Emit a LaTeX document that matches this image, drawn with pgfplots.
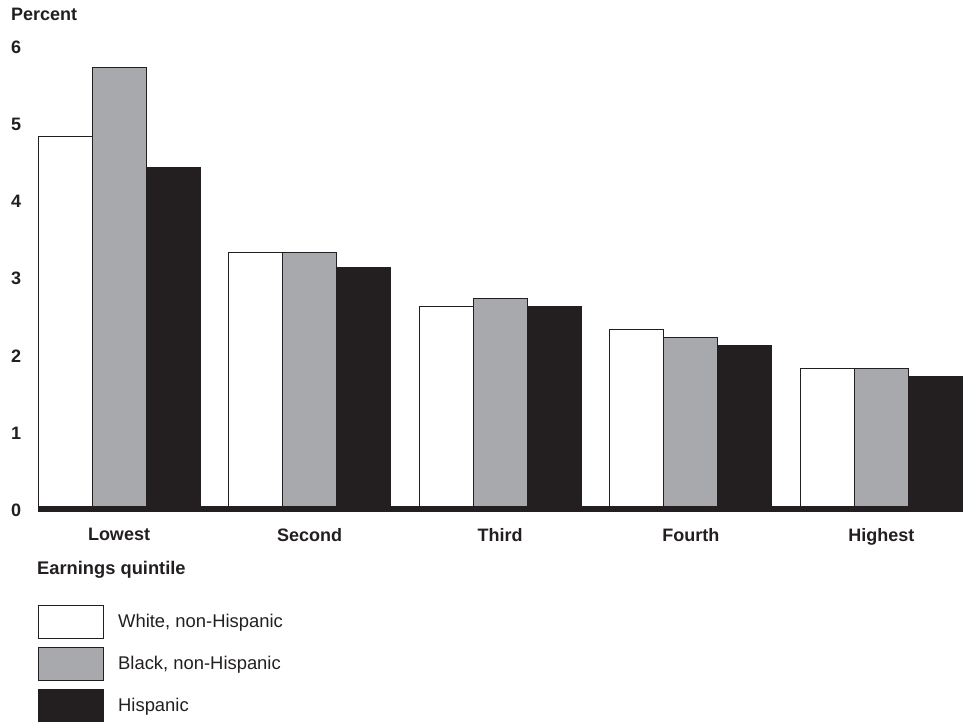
\documentclass[border=0pt]{standalone}
\usepackage{pgfplots}
\pgfplotsset{compat=1.18}
\usepackage{fontspec}
\setmainfont{Liberation Sans}
\definecolor{ink}{HTML}{231F20}
\definecolor{midgray}{HTML}{A7A9AC}
\begin{document}
\fontsize{18}{22}\selectfont
\begin{tikzpicture}[x=1pt,y=1pt]
\path[use as bounding box] (0,0) rectangle (972,722);
\begin{axis}[
  at={(38pt,214.7pt)}, anchor=south west,
  scale only axis, width=925pt, height=463.2pt,
  xmin=-0.425, xmax=4.428, ymin=0, ymax=6,
  axis line style={draw=none},
  major tick length=0pt,
  tick style={draw=none},
  /pgf/number format/assume math mode=true,
  ytick={0,1,2,3,4,5,6},
  xtick={0,1,2,3,4},
  xticklabels={Lowest,Second,Third,Fourth,Highest},
  yticklabel style={anchor=west, inner sep=0pt, xshift=-27pt, yshift=-3pt, font=\bfseries, text=ink},
  xticklabel style={anchor=north, inner sep=0pt, yshift=-20.7pt, font=\bfseries, text=ink},
  xlabel={Earnings quintile},
  xlabel style={at={(axis description cs:0,0)}, anchor=north west, inner sep=0pt, yshift=-53.7pt, xshift=-1pt, font=\fontsize{18.3}{22}\selectfont\bfseries, text=ink},
  ylabel={Percent},
  ylabel style={rotate=-90, at={(axis description cs:0,1)}, anchor=base west, inner sep=0pt, yshift=23.1pt, xshift=-27pt, font=\bfseries, text=ink},
  legend style={at={(axis description cs:0,0)}, anchor=north west, yshift=-97.7pt,
    draw=none, fill=none, inner sep=0pt, row sep=8pt, font=\fontsize{18.4}{22}\selectfont, text=ink,
    /tikz/every odd column/.append style={column sep=12pt}},
  legend cell align=left,
  legend image code/.code={\draw[#1] (0pt,-16.5pt) rectangle (65pt,16.5pt);},
  clip=false,
]
\addplot[ybar, bar width=0.2833, bar shift=-0.2833, fill=white, draw=ink, line width=1pt]
  coordinates {(0,4.8) (1,3.3) (2,2.6) (3,2.3) (4,1.8)};
\addlegendentry{White, non-Hispanic}
\addplot[ybar, bar width=0.2833, bar shift=0, fill=midgray, draw=ink, line width=1pt]
  coordinates {(0,5.7) (1,3.3) (2,2.7) (3,2.2) (4,1.8)};
\addlegendentry{Black, non-Hispanic}
\addplot[ybar, bar width=0.2833, bar shift=0.2833, fill=ink, draw=ink, line width=1pt]
  coordinates {(0,4.4) (1,3.1) (2,2.6) (3,2.1) (4,1.7)};
\addlegendentry{Hispanic}
\draw[ink, line width=6pt] ([yshift=-2.2pt]axis cs:-0.425,0) -- ([yshift=-2.2pt]axis cs:4.428,0);
\end{axis}
\end{tikzpicture}
\end{document}
